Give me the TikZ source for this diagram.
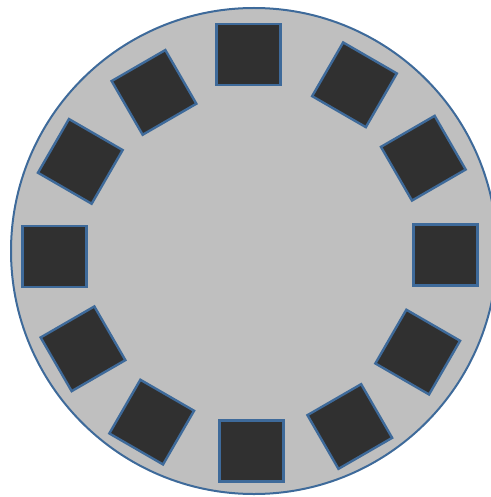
\documentclass[tikz,border=0pt]{standalone}
\definecolor{ringgray}{HTML}{BFBFBF}
\definecolor{padfill}{HTML}{303030}
\definecolor{edgeblue}{HTML}{3E6A9A}
\tikzset{
  padbox/.style={draw=edgeblue, fill=padfill, line width=2.4pt, minimum width=62pt, minimum height=62pt, inner sep=0pt, outer sep=0pt},
  flatpad/.style={padbox, minimum width=64pt, minimum height=61pt},
  disc/.style={draw=edgeblue, fill=ringgray, line width=2pt}
}
\begin{document}
\begin{tikzpicture}[x=1pt,y=-1pt]
\useasboundingbox (0,0) rectangle (490,497);
\node[disc, circle, minimum size=486pt, inner sep=0pt] (base) at (254,251) {};
\node[flatpad] (s0) at (248.5,54.5) {};
\node[padbox, rotate=60] (s1) at (354.5,84.8) {};
\node[padbox, rotate=30] (s2) at (423.3,158.2) {};
\node[flatpad] (s3) at (445.5,255) {};
\node[padbox, rotate=-30] (s4) at (417.7,352.1) {};
\node[padbox, rotate=-60] (s5) at (349.8,426.5) {};
\node[flatpad] (s6) at (251.3,451) {};
\node[padbox, rotate=-120] (s7) at (151.7,422.1) {};
\node[padbox, rotate=-150] (s8) at (83,348.8) {};
\node[flatpad] (s9) at (54.5,256.7) {};
\node[padbox, rotate=150] (s10) at (80.3,161.4) {};
\node[padbox, rotate=120] (s11) at (154,92.4) {};
\end{tikzpicture}
\end{document}
